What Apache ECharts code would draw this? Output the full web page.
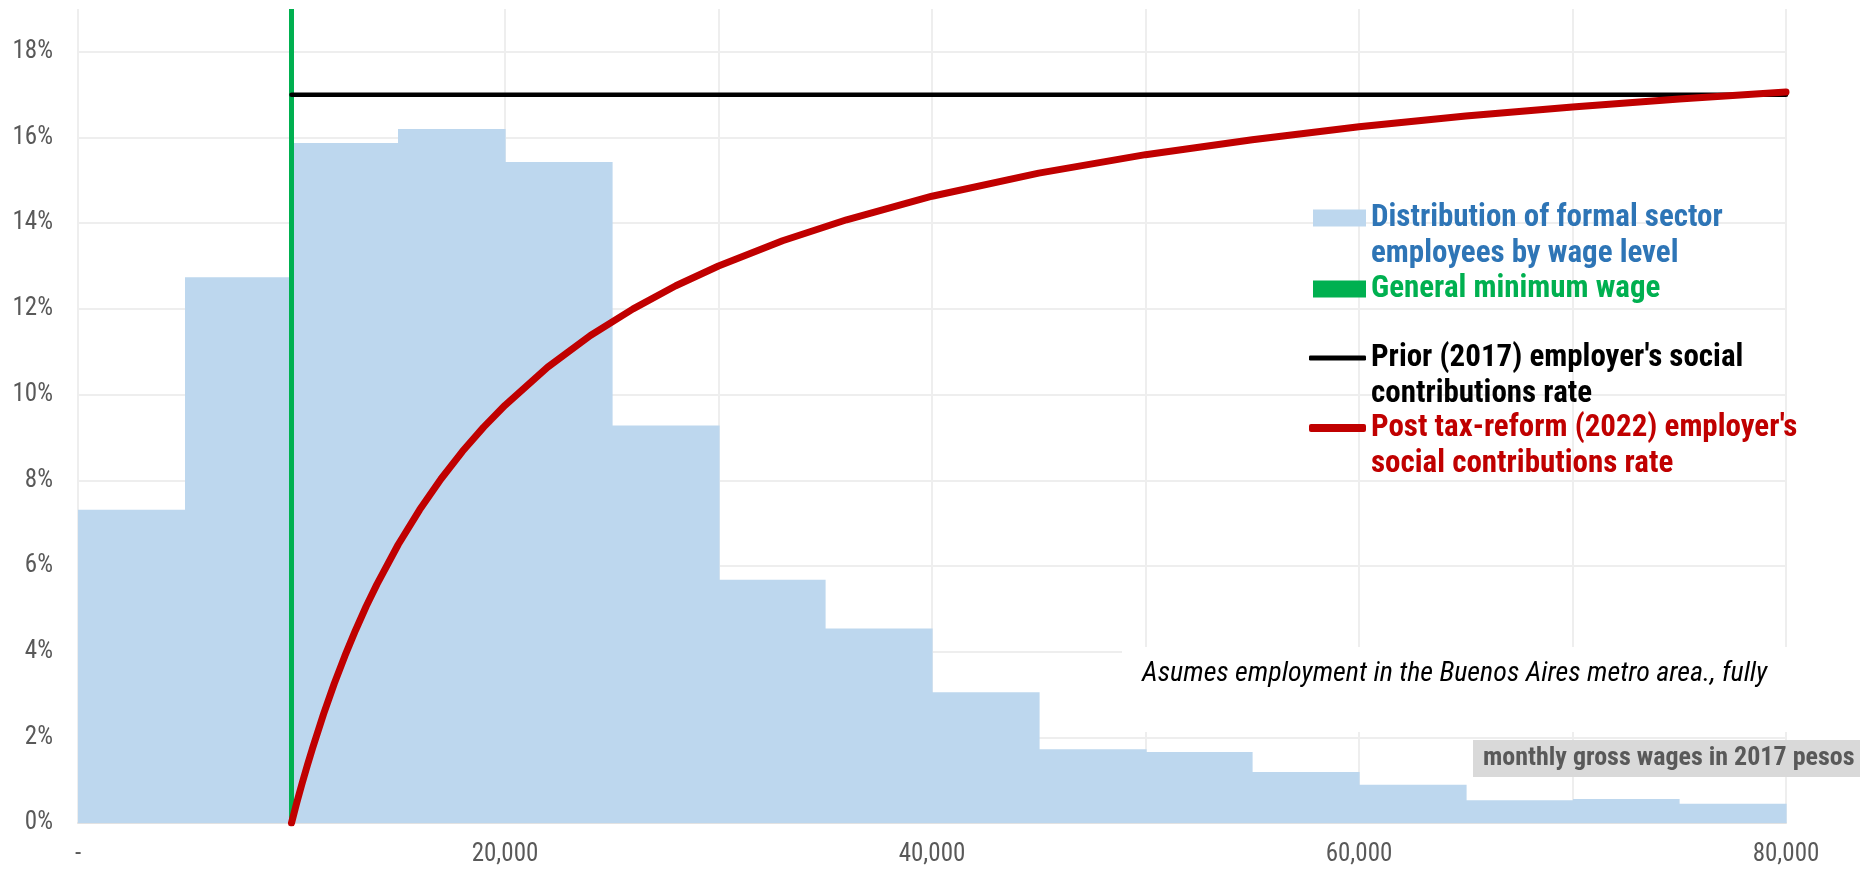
<!DOCTYPE html>
<html>
<head>
<meta charset="utf-8">
<script src="https://cdn.jsdelivr.net/npm/echarts@6/dist/echarts.min.js"></script>
<style>
html,body{margin:0;padding:0;background:#fff;}
#chart{width:1860px;height:869px;}
</style>
</head>
<body>
<div id="chart"></div>
<script>
// ---- data ----
const binLower = [0, 5000, 10000, 15000, 20000, 25000, 30000, 35000, 40000, 45000, 50000, 55000, 60000, 65000, 70000, 75000];
const binUpper = [5000, 10000, 15000, 20000, 25000, 30000, 35000, 40000, 45000, 50000, 55000, 60000, 65000, 70000, 75000, 80000];
const employeeShare = [7.31, 12.74, 15.87, 16.2, 15.43, 9.28, 5.68, 4.54, 3.05, 1.72, 1.66, 1.19, 0.89, 0.53, 0.56, 0.45];

const minimumWage = 10000;
const minWageSpan = [0, 19];

const priorWage = [10000, 80000];
const priorRate = [17, 17];

const postWage = [10000, 10250, 10500, 10750, 11000, 11500, 12000, 12500, 13000, 13500, 14000, 15000, 16000, 17000, 18000, 19000, 20000, 22000, 24000, 26000, 28000, 30000, 33000, 36000, 40000, 45000, 50000, 55000, 60000, 65000, 70000, 75000, 80000];
const postRate = [0, 0.48, 0.93, 1.36, 1.77, 2.54, 3.25, 3.9, 4.5, 5.06, 5.57, 6.5, 7.31, 8.03, 8.67, 9.24, 9.75, 10.64, 11.38, 12.0, 12.54, 13.0, 13.59, 14.08, 14.63, 15.17, 15.6, 15.95, 16.25, 16.5, 16.71, 16.9, 17.06];

const xLabelValues = [0, 20000, 40000, 60000, 80000];
const xLabelTexts = ['-', '20,000', '40,000', '60,000', '80,000'];

const seriesNames = [
  'Distribution of formal sector employees by wage level',
  'General minimum wage',
  "Prior (2017) employer's social contributions rate",
  "Post tax-reform (2022) employer's social contributions rate"
];
const legendLines = {};
legendLines[seriesNames[0]] = ['Distribution of formal sector', 'employees by wage level'];
legendLines[seriesNames[1]] = ['General minimum wage'];
legendLines[seriesNames[2]] = ["Prior (2017) employer's social", 'contributions rate'];
legendLines[seriesNames[3]] = ["Post tax-reform (2022) employer's", 'social contributions rate'];

const noteText = 'Asumes employment in the Buenos Aires metro area., fully';
const unitText = 'monthly gross wages in 2017 pesos';

// ---- font sizing (match reference text widths) ----
const FAMILY = '"Roboto Condensed", "Open Sans", sans-serif';
const mctx = document.createElement('canvas').getContext('2d');
function fitSize(text, prefix, target) {
  mctx.font = prefix + ' 100px ' + FAMILY;
  const w = mctx.measureText(text).width;
  return Math.round(100 * target / w * 2) / 2;
}
const legendSize = fitSize('Distribution of formal sector', 'bold', 351);
const axisSize = fitSize('20,000', 'normal', 66.5);
const noteSize = fitSize(noteText, 'italic', 624);
const unitSize = fitSize(unitText, 'bold', 368);

// ---- chart ----
const chart = echarts.init(document.getElementById('chart'), null, {renderer: 'canvas'});
const histData = binLower.map((lo, i) => [lo, binUpper[i], employeeShare[i]]);

function legendFor(name, color, icon, w, h, left, top) {
  return {
    show: true,
    orient: 'vertical',
    left: left,
    top: top,
    padding: 0,
    itemGap: 0,
    itemWidth: w,
    itemHeight: h,
    selectedMode: false,
    data: [{name: name, icon: icon}],
    formatter: n => {
      const lines = legendLines[n];
      // a blank leading line keeps the first text line level with the icon
      return lines.length > 1 ? ' \n' + lines.join('\n') : lines[0];
    },
    textStyle: {
      fontFamily: FAMILY,
      fontWeight: 'bold',
      fontSize: legendSize,
      lineHeight: 36,
      color: color
    }
  };
}

const option = {
  backgroundColor: '#ffffff',
  animation: false,
  grid: {left: 78, right: 74, top: 9, bottom: 46, containLabel: false},
  xAxis: {
    type: 'value',
    min: 0,
    max: 80000,
    interval: 10000,
    axisLine: {show: true, lineStyle: {color: '#e2e2e2', width: 2}},
    axisTick: {show: false},
    axisLabel: {
      color: '#595959',
      fontFamily: FAMILY,
      fontSize: axisSize,
      margin: 19,
      formatter: v => {
        const i = xLabelValues.indexOf(v);
        return i >= 0 ? xLabelTexts[i] : '';
      }
    },
    splitLine: {show: true, lineStyle: {color: '#eeeeee', width: 2}}
  },
  yAxis: {
    type: 'value',
    min: 0,
    max: 19,
    interval: 2,
    axisLine: {show: false},
    axisTick: {show: false},
    axisLabel: {
      color: '#595959',
      fontFamily: FAMILY,
      fontSize: axisSize,
      margin: 25,
      showMaxLabel: false,
      formatter: v => (v % 2 === 0 ? v + '%' : '')
    },
    splitLine: {show: true, showMaxLine: false, lineStyle: {color: '#eeeeee', width: 2}}
  },
  legend: [
    legendFor(seriesNames[0], '#2e75b6', 'rect', 53, 17, 1313, 164),
    legendFor(seriesNames[1], '#00b050', 'rect', 53, 17, 1313, 271),
    legendFor(seriesNames[2], '#000000', 'roundRect', 57, 5, 1309, 304),
    legendFor(seriesNames[3], '#c00000', 'roundRect', 57, 8, 1309, 374)
  ],
  series: [
    {
      name: seriesNames[0],
      type: 'custom',
      itemStyle: {color: '#bdd7ee'},
      encode: {x: [0, 1], y: 2},
      data: histData,
      renderItem: function (params, api) {
        const p0 = api.coord([api.value(0), api.value(2)]);
        const p1 = api.coord([api.value(1), 0]);
        const x0 = Math.round(p0[0]);
        const x1 = Math.round(p1[0]);
        return {
          type: 'rect',
          shape: {x: x0, y: p0[1], width: x1 - x0 + 0.6, height: p1[1] - p0[1]},
          style: {fill: '#bdd7ee'}
        };
      },
      z: 1
    },
    {
      name: seriesNames[1],
      type: 'line',
      data: minWageSpan.map(v => [minimumWage, v]),
      symbol: 'none',
      itemStyle: {color: '#00b050'},
      lineStyle: {color: '#00b050', width: 5},
      z: 3
    },
    {
      name: seriesNames[2],
      type: 'line',
      data: priorWage.map((w, i) => [w, priorRate[i]]),
      symbol: 'none',
      itemStyle: {color: '#000000'},
      lineStyle: {color: '#000000', width: 4.5, cap: 'round'},
      z: 4
    },
    {
      name: seriesNames[3],
      type: 'line',
      data: postWage.map((w, i) => [w, postRate[i]]),
      symbol: 'none',
      smooth: false,
      itemStyle: {color: '#c00000'},
      lineStyle: {color: '#c00000', width: 7, cap: 'round', join: 'round'},
      z: 5
    }
  ],
  graphic: [
    {
      type: 'rect',
      left: 1122,
      top: 647,
      shape: {width: 740, height: 85},
      style: {fill: '#ffffff'},
      z: 50
    },
    {
      type: 'text',
      left: 1142,
      top: 677 - noteSize * 0.6,
      style: {
        text: noteText,
        fill: '#000000',
        font: 'italic ' + noteSize + 'px ' + FAMILY
      },
      z: 51
    },
    {
      type: 'text',
      left: 1473,
      top: 740,
      style: {
        text: unitText,
        fill: '#595959',
        font: 'bold ' + unitSize + 'px ' + FAMILY,
        backgroundColor: '#d9d9d9',
        lineHeight: 37,
        padding: [0, 30, 0, 10]
      },
      z: 51
    }
  ]
};
chart.setOption(option);
</script>
</body>
</html>
